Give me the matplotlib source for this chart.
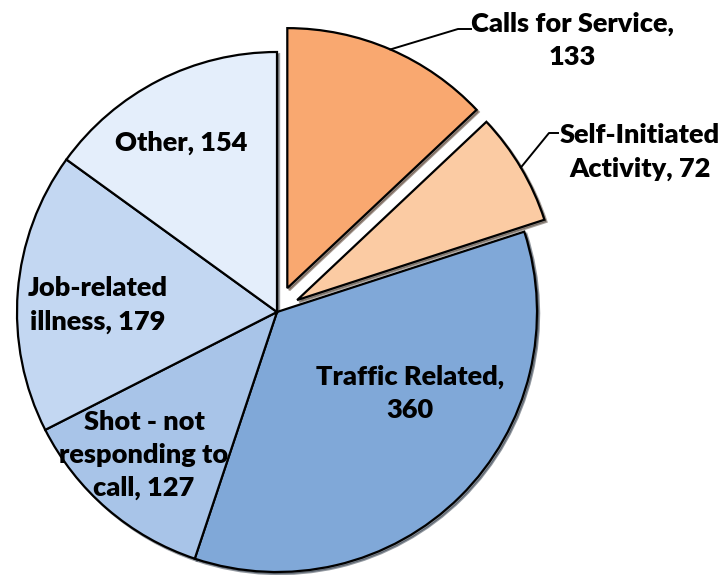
import numpy as np
import matplotlib
matplotlib.use("Agg")
import matplotlib.pyplot as plt

# ----------------------------------------------
# Data
# ----------------------------------------------
labels = ["Calls for Service,\n133", "Self-Initiated\nActivity, 72", "Traffic Related,\n360",
          "Shot - not\nresponding to\ncall, 127", "Job-related\nillness, 179", "Other, 154"]
values = [133, 72, 360, 127, 179, 154]
colors = ["#F9A870", "#FBCBA3", "#80A8D8", "#A8C4E8", "#C3D7F2", "#E4EEFB"]
explode = [0.1, 0.09, 0, 0, 0, 0]  # fraction of the radius

W, H = 722, 575
plt.rcParams["font.family"] = ["Lato", "DejaVu Sans"]

fig = plt.figure(figsize=(W / 100, H / 100), dpi=100)
ax = fig.add_axes([0, 0, 1, 1])

cx, cy, R = 277, H - 312, 260
# matplotlib's explode is in data units, so scale by the radius
wedges, _ = ax.pie(values, colors=colors, explode=[e * R for e in explode],
                   startangle=90, counterclock=False, radius=R, center=(cx, cy),
                   shadow=dict(ox=1.5, oy=-1.5, shade=0.7),
                   wedgeprops=dict(edgecolor="black", linewidth=1.6))

# pie() resets the limits, so set the pixel frame afterwards
ax.set_xlim(0, W)
ax.set_ylim(0, H)
ax.set_aspect("equal")
ax.axis("off")

fs = 19.5
ls = 1.45
# labels inside the slices (x, y in picture pixels, y from top)
inside = {2: (410, 393), 3: (144, 455), 4: (98, 305), 5: (181, 143)}
for i, (x, y) in inside.items():
    ax.text(x, H - y, labels[i], ha="center", va="center", fontsize=fs,
            fontweight="heavy", linespacing=ls)

# outside labels with leader lines from slice midpoints
outside = {0: ((572, 40), (458, 29), (471, 29)),
           1: ((640, 152), (549, 133), (558, 133))}
for i, ((lx, ly), (kx, ky), (ex, ey)) in outside.items():
    w = wedges[i]
    mid = np.deg2rad((w.theta1 + w.theta2) / 2)
    ox, oy = w.center
    sx, sy = ox + R * np.cos(mid), oy + R * np.sin(mid)
    ax.plot([sx, kx, ex], [sy, H - ky, H - ey], color="black", lw=1.4)
    ax.text(lx, H - ly, labels[i], ha="center", va="center", fontsize=fs,
            fontweight="heavy", linespacing=ls)

fig.savefig("out.png", dpi=100)
